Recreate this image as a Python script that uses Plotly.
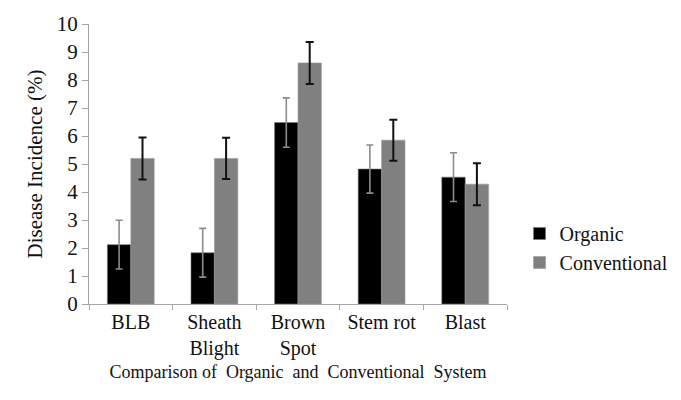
import plotly.graph_objects as go

categories = ["BLB", "Sheath<br>Blight", "Brown<br>Spot", "Stem rot", "Blast"]
organic = [2.12, 1.83, 6.48, 4.82, 4.53]
organic_err = [0.87, 0.87, 0.88, 0.86, 0.87]
conventional = [5.20, 5.20, 8.61, 5.85, 4.28]
conventional_err = [0.75, 0.74, 0.75, 0.73, 0.75]
y_ticks = list(range(0, 11))

FONT = "Liberation Serif"

fig = go.Figure()
fig.add_trace(go.Bar(
    x=categories, y=organic, name="Organic",
    marker=dict(color="#000000", line=dict(color="#777777", width=0.6)),
    error_y=dict(type="data", array=organic_err, visible=True,
                 color="#8c8c8c", thickness=1.6, width=3.5),
))
fig.add_trace(go.Bar(
    x=categories, y=conventional, name="Conventional",
    marker=dict(color="#808080", line=dict(color="#9a9a9a", width=0.6)),
    error_y=dict(type="data", array=conventional_err, visible=True,
                 color="#111111", thickness=2, width=4),
))

fig.update_layout(
    template="none",
    width=673, height=392,
    margin=dict(l=81, r=174, t=16, b=96, autoexpand=False),
    paper_bgcolor="white", plot_bgcolor="white",
    barmode="group", bargap=0.44, bargroupgap=0,
    font=dict(family=FONT, size=20, color="#111111"),
    showlegend=True,
    legend=dict(x=1.03, xanchor="left", y=0.2, yanchor="middle",
                font=dict(size=20),
                bgcolor="rgba(0,0,0,0)", itemwidth=30),
    xaxis=dict(
        type="category", showline=True, linecolor="#a6a6a6", linewidth=1,
        ticks="outside", tickson="boundaries", ticklen=5, tickcolor="#a6a6a6",
        showgrid=False, zeroline=False, automargin=False, tickangle=0,
        tickfont=dict(size=20),
        title=dict(text="Comparison of  Organic  and  Conventional  System",
                   font=dict(size=18), standoff=6),
    ),
    yaxis=dict(
        range=[0, 10], tickvals=y_ticks, showline=True, linecolor="#a6a6a6",
        linewidth=1, ticks="outside", ticklen=6, tickcolor="#a6a6a6",
        showgrid=False, zeroline=False, automargin=False,
        tickfont=dict(size=21),
        title=dict(text="Disease Incidence (%)",
                   font=dict(size=21), standoff=8),
    ),
)

fig.write_html("out.html")
